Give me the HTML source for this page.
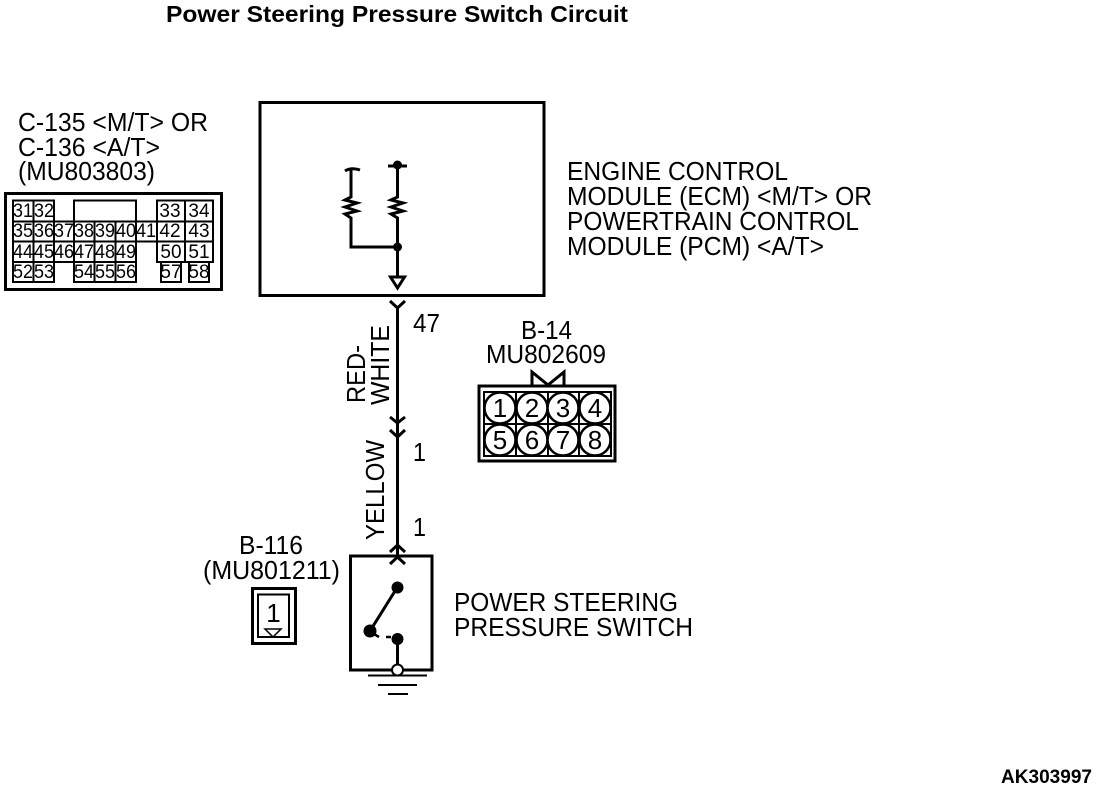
<!DOCTYPE html>
<html><head><meta charset="utf-8"><style>
html,body{margin:0;padding:0;background:#fff}
svg{display:block}
text{font-family:"Liberation Sans",sans-serif;fill:#000}
.l{font-size:26px}
.c{font-size:19px;text-anchor:middle}
.g{fill:none;stroke:#000;stroke-width:2}
</style></head><body>
<svg width="1120" height="792" viewBox="0 0 1120 792" xmlns="http://www.w3.org/2000/svg">
<rect width="1120" height="792" fill="#fff"/>
<text x="166" y="22" font-size="23.500" font-weight="bold" textLength="462" lengthAdjust="spacingAndGlyphs">Power Steering Pressure Switch Circuit</text>
<text class="l" x="18" y="131" textLength="190" lengthAdjust="spacingAndGlyphs">C-135 &lt;M/T&gt; OR</text>
<text class="l" x="18" y="156" textLength="142" lengthAdjust="spacingAndGlyphs">C-136 &lt;A/T&gt;</text>
<text class="l" x="18" y="180" textLength="137" lengthAdjust="spacingAndGlyphs">(MU803803)</text>
<!-- C connector -->
<rect x="5.500" y="193.500" width="216" height="96" fill="none" stroke="#000" stroke-width="3"/>
<g class="g">
<rect x="13" y="200.500" width="20.500" height="21"/><rect x="33.500" y="200.500" width="20.500" height="21"/>
<rect x="74" y="200.500" width="62" height="21"/>
<rect x="157" y="200.500" width="28" height="21"/><rect x="185" y="200.500" width="28" height="21"/>
<rect x="13" y="221.500" width="144" height="20"/><rect x="157" y="221.500" width="28" height="20"/><rect x="185" y="221.500" width="28" height="20"/>
<path d="M33.500 221.500V241.500M54 221.500V241.500M74 221.500V241.500M94.500 221.500V241.500M115.500 221.500V241.500M136 221.500V241.500"/>
<rect x="13" y="241.500" width="123" height="20.500"/>
<path d="M33.500 241.500V262M54 241.500V262M74 241.500V262M94.500 241.500V262M115.500 241.500V262"/>
<rect x="157" y="241.500" width="28" height="20.500"/><rect x="185" y="241.500" width="28" height="20.500"/>
<rect x="13" y="262" width="20.500" height="20"/><rect x="33.500" y="262" width="20.500" height="20"/>
<rect x="74" y="262" width="20.500" height="20"/><rect x="94.500" y="262" width="21" height="20"/><rect x="115.500" y="262" width="20.500" height="20"/>
<rect x="161" y="262" width="20" height="20"/><rect x="189" y="262" width="20" height="20"/>
</g>
<g>
<text class="c" x="23" y="217" textLength="20" lengthAdjust="spacingAndGlyphs">31</text>
<text class="c" x="44" y="217" textLength="20" lengthAdjust="spacingAndGlyphs">32</text>
<text class="c" x="170" y="217">33</text><text class="c" x="199" y="217">34</text>
<text class="c" x="23" y="237" textLength="20" lengthAdjust="spacingAndGlyphs">35</text>
<text class="c" x="44" y="237" textLength="20" lengthAdjust="spacingAndGlyphs">36</text>
<text class="c" x="64" y="237" textLength="20" lengthAdjust="spacingAndGlyphs">37</text>
<text class="c" x="84" y="237" textLength="20" lengthAdjust="spacingAndGlyphs">38</text>
<text class="c" x="105" y="237" textLength="20" lengthAdjust="spacingAndGlyphs">39</text>
<text class="c" x="126" y="237" textLength="20" lengthAdjust="spacingAndGlyphs">40</text>
<text class="c" x="146" y="237" textLength="20" lengthAdjust="spacingAndGlyphs">41</text>
<text class="c" x="170" y="237">42</text><text class="c" x="199" y="237">43</text>
<text class="c" x="23" y="258" textLength="20" lengthAdjust="spacingAndGlyphs">44</text>
<text class="c" x="44" y="258" textLength="20" lengthAdjust="spacingAndGlyphs">45</text>
<text class="c" x="64" y="258" textLength="20" lengthAdjust="spacingAndGlyphs">46</text>
<text class="c" x="84" y="258" textLength="20" lengthAdjust="spacingAndGlyphs">47</text>
<text class="c" x="105" y="258" textLength="20" lengthAdjust="spacingAndGlyphs">48</text>
<text class="c" x="126" y="258" textLength="20" lengthAdjust="spacingAndGlyphs">49</text>
<text class="c" x="171" y="258">50</text><text class="c" x="199" y="258">51</text>
<text class="c" x="23" y="278" textLength="20" lengthAdjust="spacingAndGlyphs">52</text>
<text class="c" x="44" y="278" textLength="20" lengthAdjust="spacingAndGlyphs">53</text>
<text class="c" x="84" y="278" textLength="20" lengthAdjust="spacingAndGlyphs">54</text>
<text class="c" x="105" y="278" textLength="20" lengthAdjust="spacingAndGlyphs">55</text>
<text class="c" x="126" y="278" textLength="20" lengthAdjust="spacingAndGlyphs">56</text>
<text class="c" x="171" y="278">57</text><text class="c" x="199" y="278">58</text>
</g>
<!-- ECM -->
<rect x="260" y="102.500" width="284" height="193" fill="none" stroke="#000" stroke-width="3"/>
<g fill="none" stroke="#000" stroke-width="3">
<path d="M345 171Q351 167 360 170M351 169V197L345 200L357 203L345 207L357 211L345 214L351 218V247H397"/>
<path d="M388 166H407M397.500 165V197L391 200L403 203L391 207L403 211L391 214L397.500 218V277"/>
<path d="M390.500 277H404.500L397.500 288Z"/>
<path d="M390 301L397.500 308L405 301M397.500 306V556"/>
<path d="M390 417L397.500 423L405 417M390 430L397.500 437L405 430"/>
<path d="M390 552L397.500 545L405 552M390 564L397.500 557L405 564"/>
</g>
<circle cx="397.500" cy="165" r="4.500"/><circle cx="397.500" cy="247" r="4.500"/>
<text class="l" x="567" y="180" textLength="221" lengthAdjust="spacingAndGlyphs">ENGINE CONTROL</text>
<text class="l" x="567" y="205" textLength="305" lengthAdjust="spacingAndGlyphs">MODULE (ECM) &lt;M/T&gt; OR</text>
<text class="l" x="567" y="230" textLength="292" lengthAdjust="spacingAndGlyphs">POWERTRAIN CONTROL</text>
<text class="l" x="567" y="255" textLength="257" lengthAdjust="spacingAndGlyphs">MODULE (PCM) &lt;A/T&gt;</text>
<text class="l" x="413" y="332" textLength="27" lengthAdjust="spacingAndGlyphs">47</text>
<text class="l" x="413" y="461" textLength="13" lengthAdjust="spacingAndGlyphs">1</text>
<text class="l" x="413" y="536" textLength="13" lengthAdjust="spacingAndGlyphs">1</text>
<text class="l" transform="translate(365 403) rotate(-90)" textLength="58" lengthAdjust="spacingAndGlyphs">RED-</text>
<text class="l" transform="translate(389 405) rotate(-90)" textLength="80" lengthAdjust="spacingAndGlyphs">WHITE</text>
<text class="l" transform="translate(384 540) rotate(-90)" textLength="100" lengthAdjust="spacingAndGlyphs">YELLOW</text>
<!-- B-14 -->
<text class="l" x="521" y="339" textLength="51" lengthAdjust="spacingAndGlyphs">B-14</text>
<text class="l" x="486" y="363" textLength="120" lengthAdjust="spacingAndGlyphs">MU802609</text>
<path d="M532 385V372L548 385L564 372V385" fill="none" stroke="#000" stroke-width="3"/>
<rect x="479" y="386" width="136" height="75" fill="#fff" stroke="#000" stroke-width="3"/>
<g fill="none" stroke="#000" stroke-width="2">
<rect x="484" y="392" width="127" height="64"/>
<path d="M516 392V456M548 392V456M579 392V456M484 424H611"/>
</g>
<g fill="#fff" stroke="#000" stroke-width="2.500">
<circle cx="500" cy="408" r="15.500"/><circle cx="532" cy="408" r="15.500"/><circle cx="563" cy="408" r="15.500"/><circle cx="595" cy="408" r="15.500"/>
<circle cx="500" cy="440" r="15.500"/><circle cx="532" cy="440" r="15.500"/><circle cx="563" cy="440" r="15.500"/><circle cx="595" cy="440" r="15.500"/>
</g>
<g class="l" text-anchor="middle">
<text x="500" y="417">1</text><text x="532" y="417">2</text><text x="563" y="417">3</text><text x="595" y="417">4</text>
<text x="500" y="449">5</text><text x="532" y="449">6</text><text x="563" y="449">7</text><text x="595" y="449">8</text>
</g>
<!-- B-116 -->
<text class="l" x="239" y="554" textLength="64" lengthAdjust="spacingAndGlyphs">B-116</text>
<text class="l" x="203" y="579" textLength="137" lengthAdjust="spacingAndGlyphs">(MU801211)</text>
<rect x="252.500" y="588.500" width="43" height="55" fill="none" stroke="#000" stroke-width="3"/>
<rect x="258" y="594.500" width="31" height="42.500" fill="none" stroke="#000" stroke-width="2"/>
<path d="M265 629H281L273 637Z" fill="none" stroke="#000" stroke-width="1.500"/>
<text class="l" x="273.500" y="622" text-anchor="middle">1</text>
<!-- Switch -->
<rect x="350.500" y="556" width="81.500" height="114" fill="none" stroke="#000" stroke-width="3"/>
<path d="M397.500 587L370 631M397.500 639V670" stroke="#000" stroke-width="3" fill="none"/>
<path d="M374 634L379 637M391 637L386 637" stroke="#000" stroke-width="2.500"/>
<circle cx="397.500" cy="587.500" r="6"/><circle cx="370" cy="631" r="6.500"/><circle cx="397.500" cy="639" r="6"/>
<circle cx="397.500" cy="670" r="5.500" fill="#fff" stroke="#000" stroke-width="2"/>
<path d="M368 675.500H427M378 685H417M388 694H408" stroke="#000" stroke-width="2" fill="none"/>
<text class="l" x="454" y="611" textLength="224" lengthAdjust="spacingAndGlyphs">POWER STEERING</text>
<text class="l" x="454" y="636" textLength="239" lengthAdjust="spacingAndGlyphs">PRESSURE SWITCH</text>
<text x="1001" y="783" font-size="19" font-weight="bold" textLength="91" lengthAdjust="spacingAndGlyphs">AK303997</text>
</svg>
</body></html>
